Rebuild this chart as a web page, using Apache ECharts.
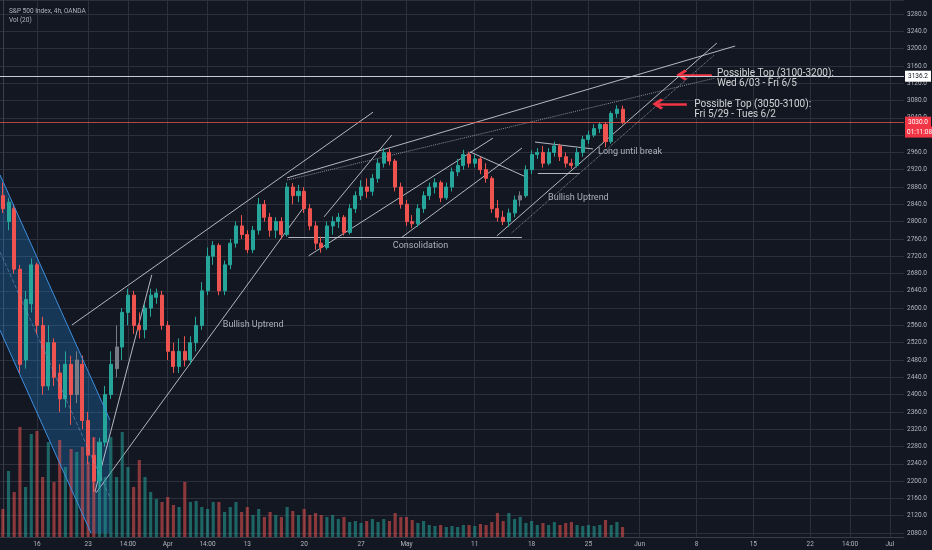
<!DOCTYPE html>
<html>
<head>
<meta charset="utf-8">
<title>S&P 500 Index, 4h, OANDA</title>
<script src="https://cdn.jsdelivr.net/npm/echarts@6/dist/echarts.min.js"></script>
<style>
  html, body { margin: 0; padding: 0; background: #131722; }
  #main { width: 932px; height: 550px; }
</style>
</head>
<body>
<div id="main"></div>
<script>
// half-day slots: slot 0 = Mar 11 PM, slot 5 = Mar 16 AM, ... slot 109 = May 28 AM
var slotCount = 159;
var tickSlots = [6, 15, 22, 29, 36, 43, 53, 63, 71, 83, 93, 103, 112, 122, 132, 142, 149, 156];
var tickNames = ['16', '23', '14:00', 'Apr', '14:00', '13', '20', '27', 'May', '11', '18', '25', 'Jun', '8', '15', '22', '14:00', 'Jul'];

// [open, close, low, high]
var candles = [
  [2860,2830,2820,2890],[2800,2845,2780,2855],[2830,2690,2680,2840],[2690,2470,2450,2700],
  [2480,2620,2460,2640],[2610,2700,2590,2715],[2700,2560,2540,2705],[2560,2420,2400,2580],
  [2420,2520,2410,2560],[2520,2440,2420,2530],[2450,2390,2360,2470],[2390,2470,2370,2500],
  [2470,2400,2330,2490],[2400,2480,2380,2500],[2470,2340,2320,2490],[2340,2260,2240,2360],
  [2260,2200,2175,2300],[2200,2290,2185,2300],[2290,2400,2280,2420],[2400,2470,2390,2500],
  [2460,2510,2440,2560],[2510,2590,2480,2600],[2590,2630,2560,2645],[2630,2560,2540,2640],
  [2560,2550,2530,2590],[2550,2600,2530,2610],[2600,2630,2580,2645],[2625,2635,2610,2645],
  [2630,2560,2550,2640],[2560,2500,2480,2570],[2500,2465,2450,2520],[2465,2500,2450,2530],
  [2500,2480,2465,2535],[2480,2520,2470,2535],[2520,2560,2500,2580],[2560,2640,2550,2660],
  [2640,2720,2630,2740],[2720,2745,2700,2755],[2745,2640,2630,2750],[2640,2700,2630,2710],
  [2700,2750,2690,2760],[2750,2790,2740,2800],[2790,2770,2760,2815],[2770,2735,2727,2780],
  [2735,2780,2727,2790],[2780,2840,2770,2855],[2840,2810,2800,2850],[2810,2780,2765,2820],
  [2780,2800,2762,2810],[2800,2770,2760,2810],[2770,2880,2765,2890],[2880,2860,2840,2889],
  [2860,2870,2845,2885],[2870,2830,2820,2880],[2830,2790,2780,2840],[2790,2750,2735,2800],
  [2750,2740,2728,2765],[2740,2790,2735,2800],[2790,2800,2770,2812],[2800,2810,2785,2820],
  [2810,2775,2768,2815],[2775,2830,2770,2840],[2830,2860,2820,2870],[2860,2880,2850,2896],
  [2880,2870,2855,2900],[2870,2900,2860,2910],[2900,2935,2890,2945],[2935,2960,2925,2970],
  [2960,2940,2930,2968],[2940,2880,2870,2945],[2880,2840,2830,2890],[2840,2800,2790,2850],
  [2800,2795,2785,2815],[2795,2830,2788,2840],[2830,2860,2820,2870],[2860,2880,2850,2890],
  [2880,2890,2865,2900],[2890,2855,2845,2895],[2855,2880,2850,2890],[2880,2915,2870,2925],
  [2915,2930,2905,2945],[2930,2955,2920,2966],[2955,2935,2925,2962],[2935,2945,2925,2955],
  [2945,2920,2910,2950],[2920,2900,2890,2935],[2900,2830,2820,2905],[2830,2810,2800,2850],
  [2810,2800,2792,2825],[2800,2820,2788,2830],[2820,2850,2810,2860],[2850,2860,2835,2870],
  [2860,2920,2855,2930],[2920,2955,2910,2965],[2955,2960,2945,2970],[2960,2935,2925,2975],
  [2935,2960,2930,2970],[2960,2975,2950,2985],[2975,2950,2940,2980],[2950,2935,2925,2960],
  [2935,2930,2922,2945],[2930,2960,2925,2970],[2960,2990,2950,2998],[2990,3000,2980,3010],
  [3000,3015,2995,3025],[3015,3025,3005,3030],[3025,2985,2972,3030],[2985,3050,2980,3055],
  [3050,3060,3040,3069],[3060,3030,3025,3068]
];
var grayBars = [13, 20, 91];

var volumes = [
  28,66,45,110,50,103,106,60,95,55,97,70,88,85,90,75,100,80,60,100,
  60,105,70,50,77,60,45,38,35,40,32,30,55,35,36,30,28,35,35,25,
  30,35,25,30,22,28,20,25,22,20,30,26,22,28,22,24,22,20,22,18,
  20,15,16,14,16,18,15,18,16,24,20,20,17,14,16,12,11,12,10,11,
  10,12,12,11,13,12,15,24,16,24,18,20,14,16,12,14,12,15,12,14,
  15,12,11,12,11,12,17,12,15,10
];

// drawings, [slot, price] end points
var channelTop = [[-0.5, 2908], [18.85, 2341]];
var channelBottom = [[-0.5, 2549], [15.5, 2080]];
var channelMid = [[-0.5, 2730], [18.85, 2162]];
var channelShape = [[-0.5, 2908], [18.85, 2341], [18.85, 2080], [15.5, 2080], [-0.5, 2549]];

var solidLines = [
  [[12.16, 2561], [65.1, 3053]],
  [[16.2, 2175], [26.2, 2677]],
  [[16.4, 2173], [52.8, 2831]],
  [[50.0, 2901], [128.8, 3206]],
  [[50.2, 2764], [91.3, 2764]],
  [[53.8, 2721], [86.2, 2993]],
  [[56.5, 2811], [68.4, 3000]],
  [[70.2, 2764], [91.3, 2970]],
  [[82.2, 2961], [92.4, 2901]],
  [[86.9, 2767], [125.6, 3213]],
  [[93.6, 2984], [103.8, 2968]],
  [[94.1, 2912], [101.5, 2912]]
];
var dottedLines = [
  [[50.0, 2896], [125.3, 3132]],
  [[89.5, 2774], [125.2, 3186]]
];
var arrows = [
  [[124.7, 3139], [119.4, 3139]],
  [[120.3, 3072], [115.2, 3072]]
];

var smallNotes = [
  [38.7, 2561, 'Bullish Uptrend'],
  [68.6, 2744, 'Consolidation'],
  [95.9, 2855, 'Bullish Uptrend'],
  [104.7, 2961, 'Long until break']
];
var bigNotes = [
  [125.6, 3131, 'Possible Top (3100-3200):\nWed 6/03 - Fri 6/5'],
  [121.6, 3060, 'Possible Top (3050-3100):\nFri 5/29 - Tues 6/2']
];

var resistance = 3136.2;
var lastPrice = 3030.0;
var gridColor = '#2c303c';

var slots = [];
for (var i = 0; i < slotCount; i++) slots.push(String(i));

var candleData = candles.map(function (c, i) {
  if (grayBars.indexOf(i) >= 0) {
    return { value: c, itemStyle: { color: '#787b86', color0: '#787b86', borderColor: '#787b86', borderColor0: '#787b86' } };
  }
  return c;
});
var volumeData = volumes.map(function (v, i) {
  var up = candles[i][1] >= candles[i][0];
  return { value: v, itemStyle: { color: up ? 'rgba(38,166,154,0.55)' : 'rgba(239,83,80,0.55)' } };
});

function toNotes(list) {
  return list.map(function (n) { return { value: [n[0], n[1]], name: n[2] }; });
}
function toLines(list) {
  return list.map(function (l) { return { coords: l }; });
}
function isTick(index) { return tickSlots.indexOf(index) >= 0; }

// vertical grid lines at the date labels, from the time axis line up to the top
var dateLines = tickSlots.map(function (k) { return { coords: [[k, 2071], [k, 3313]] }; });

var chart = echarts.init(document.getElementById('main'));
chart.setOption({
  animation: false,
  backgroundColor: '#131722',
  textStyle: { fontFamily: 'Roboto, "Liberation Sans", sans-serif' },
  title: {
    text: 'S&P 500 Index, 4h, OANDA',
    subtext: 'Vol (20)',
    left: 4, top: 3, itemGap: 2,
    textStyle: { color: '#b2b5be', fontSize: 6.5, fontWeight: 'normal' },
    subtextStyle: { color: '#b2b5be', fontSize: 6.5 }
  },
  grid: [
    { left: 0, right: 28, top: 0, bottom: 17 },
    { left: 0, right: 28, top: 0, bottom: 13 }
  ],
  xAxis: [
    { type: 'category', gridIndex: 0, data: slots, boundaryGap: true, show: false },
    { type: 'value', gridIndex: 0, min: -0.5, max: slotCount - 0.5, show: false },
    {
      type: 'category', gridIndex: 1, data: slots, boundaryGap: true,
      axisLine: { lineStyle: { color: '#3a3e4a' } },
      axisTick: { show: false },
      axisLabel: {
        interval: isTick, color: '#b2b5be', fontSize: 6.5, margin: 4,
        formatter: function (v) { return tickNames[tickSlots.indexOf(Number(v))]; }
      },
      splitLine: { show: false }
    }
  ],
  yAxis: [
    {
      type: 'value', gridIndex: 0, position: 'right',
      min: 2080, max: 3312.4, interval: 40,
      axisLine: { show: true, lineStyle: { color: '#3a3e4a' } },
      axisTick: { show: false },
      axisLabel: {
        color: '#b2b5be', fontSize: 6.5, margin: 3, showMaxLabel: false,
        formatter: function (v) { return v.toFixed(1); }
      },
      splitLine: { lineStyle: { color: gridColor } }
    },
    { type: 'value', gridIndex: 1, min: 0, max: 537, show: false }
  ],
  series: [
    {
      type: 'lines', coordinateSystem: 'cartesian2d', xAxisIndex: 1, yAxisIndex: 0,
      data: dateLines, silent: true, z: 0, clip: false,
      lineStyle: { color: gridColor, width: 1, opacity: 1 }
    },
    {
      type: 'bar', xAxisIndex: 2, yAxisIndex: 1,
      data: volumeData, barWidth: '55%'
    },
    {
      type: 'candlestick', xAxisIndex: 0, yAxisIndex: 0,
      data: candleData, barWidth: '62%',
      itemStyle: { color: '#26a69a', color0: '#ef5350', borderColor: '#26a69a', borderColor0: '#ef5350', borderWidth: 1 },
      markLine: {
        silent: true, symbol: 'none', animation: false,
        data: [
          {
            yAxis: resistance,
            lineStyle: { color: '#c9ccd4', width: 1, type: 'solid' },
            label: { formatter: resistance.toFixed(1), position: 'end', distance: 1, backgroundColor: '#ffffff', color: '#131722', fontSize: 6.5, padding: [2, 3] }
          },
          {
            yAxis: lastPrice,
            lineStyle: { color: 'rgba(239,83,80,0.75)', width: 1, type: 'solid' },
            label: { formatter: lastPrice.toFixed(1), position: 'end', distance: 1, backgroundColor: '#f23645', color: '#ffffff', fontSize: 6.5, padding: [2, 3] }
          },
          {
            yAxis: lastPrice - 23,
            lineStyle: { color: 'rgba(0,0,0,0)', width: 1 },
            label: { formatter: '01:11:08', position: 'end', distance: 1, backgroundColor: '#f23645', color: '#ffffff', fontSize: 6.5, padding: [2, 2] }
          }
        ]
      }
    },
    {
      type: 'custom', xAxisIndex: 1, yAxisIndex: 0,
      data: [[0, 2500]],
      renderItem: function (params, api) {
        var pts = channelShape.map(function (p) { return api.coord(p); });
        return { type: 'polygon', shape: { points: pts }, style: { fill: 'rgba(33,150,243,0.25)' } };
      },
      silent: true
    },
    {
      type: 'line', xAxisIndex: 1, yAxisIndex: 0, data: channelTop, showSymbol: false,
      lineStyle: { color: '#3d8fe0', width: 1 }, silent: true
    },
    {
      type: 'line', xAxisIndex: 1, yAxisIndex: 0, data: channelBottom, showSymbol: false,
      lineStyle: { color: '#3d8fe0', width: 1 }, silent: true
    },
    {
      type: 'line', xAxisIndex: 1, yAxisIndex: 0, data: channelMid, showSymbol: false,
      lineStyle: { color: 'rgba(120,170,220,0.5)', width: 1, type: 'dashed' }, silent: true
    },
    {
      type: 'lines', coordinateSystem: 'cartesian2d', xAxisIndex: 1, yAxisIndex: 0,
      data: toLines(solidLines), silent: true,
      lineStyle: { color: '#d1d4dc', width: 1, opacity: 0.85 }
    },
    {
      type: 'lines', coordinateSystem: 'cartesian2d', xAxisIndex: 1, yAxisIndex: 0,
      data: toLines(dottedLines), silent: true,
      lineStyle: { color: '#9598a1', width: 1, type: 'dotted', opacity: 0.9 }
    },
    {
      type: 'lines', coordinateSystem: 'cartesian2d', xAxisIndex: 1, yAxisIndex: 0,
      data: toLines(arrows), silent: true,
      symbol: ['none', 'path://M10,0 L20,10 L17,13 L10,6 L3,13 L0,10 Z'],
      symbolSize: [20, 11],
      lineStyle: { color: '#f23645', width: 2.5, opacity: 1 },
      itemStyle: { color: '#f23645' }
    },
    {
      type: 'scatter', xAxisIndex: 1, yAxisIndex: 0, symbolSize: 0, silent: true,
      data: toNotes(smallNotes),
      label: { show: true, position: 'right', distance: 0, formatter: '{b}', color: '#d1d4dc', fontSize: 9 }
    },
    {
      type: 'scatter', xAxisIndex: 1, yAxisIndex: 0, symbolSize: 0, silent: true,
      data: toNotes(bigNotes),
      label: { show: true, position: 'right', distance: 0, formatter: '{b}', color: '#ffffff', fontSize: 10, lineHeight: 10 }
    }
  ]
});
</script>
</body>
</html>
